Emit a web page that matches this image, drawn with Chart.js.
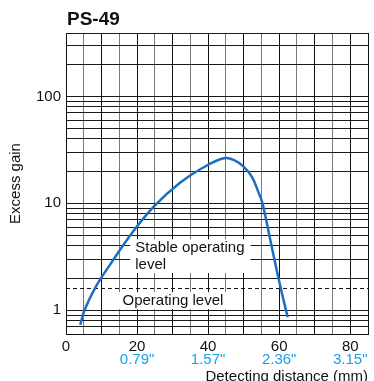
<!DOCTYPE html>
<html><head><meta charset="utf-8">
<script src="https://cdn.jsdelivr.net/npm/chart.js@4/dist/chart.umd.min.js"></script>
<style>html,body{margin:0;padding:0;background:#fff;overflow:hidden}canvas{display:block}</style>
</head><body>
<canvas id="c" width="374" height="381"></canvas>
<script>
const chartTitle = 'PS-49';
const distanceMm = [4.0, 5.2, 8.25, 12.5, 19.0, 25.1, 32.0, 38.5, 44.7, 47.7, 50.0, 52.4, 54.2, 55.3, 57.85, 60.4, 62.4];
const excessGain = [0.73, 1.0, 1.63, 2.7, 5.5, 9.6, 15.5, 21.5, 26.5, 24.9, 22.0, 17.5, 12.6, 10.0, 4.0, 1.63, 0.86];
const xTickValues = [0, 20, 40, 60, 80];
const xTickInches = ['', '0.79"', '1.57"', '2.36"', '3.15"'];
const xGridValues = [0, 5, 10, 15, 20, 25, 30, 35, 40, 45, 50, 55, 60, 65, 70, 75, 80, 85];
const yLabelValues = [1, 10, 100];
const yGridValues = [0.7, 0.8, 0.9, 1, 2, 3, 4, 5, 6, 7, 8, 9, 10, 20, 30, 40, 50, 60, 70, 80, 90, 100, 200, 300];
const operatingLevel = 1.62;
const stableLabel = ['Stable operating', 'level'];
const operatingLabel = 'Operating level';
const xTitle = 'Detecting distance (mm)';
const yTitle = 'Excess gain';

const FONT = "'Liberation Sans', Arial, Helvetica, sans-serif";
const Y_MIN = 0.639, Y_MAX = 391.5, X_MIN = 0, X_MAX = 85;

const annotPlugin = {
  id: 'annot',
  beforeDatasetsDraw(chart) {
    const {ctx, chartArea, scales} = chart;
    const xs = scales.x, ys = scales.y;
    ctx.save();
    const yl = Math.round(ys.getPixelForValue(operatingLevel)) + 0.5;
    ctx.strokeStyle = '#111';
    ctx.lineWidth = 1;
    ctx.setLineDash([4, 3]);
    ctx.beginPath();
    ctx.moveTo(chartArea.left, yl);
    ctx.lineTo(chartArea.right, yl);
    ctx.stroke();
    ctx.setLineDash([]);
    ctx.font = '15px ' + FONT;
    ctx.textBaseline = 'middle';
    ctx.textAlign = 'left';
    const sx = xs.getPixelForValue(19.5);
    const sy = ys.getPixelForValue(3.83);
    const lh = 16.7;
    let w = 0;
    stableLabel.forEach(t => { w = Math.max(w, ctx.measureText(t).width); });
    ctx.fillStyle = '#fff';
    ctx.fillRect(sx - 5, sy - 8.5, w + 11, lh * (stableLabel.length - 1) + 17);
    ctx.fillStyle = '#111';
    stableLabel.forEach((t, i) => ctx.fillText(t, sx, sy + i * lh));
    const ox = xs.getPixelForValue(15.9);
    const oy = ys.getPixelForValue(1.23);
    const ow = ctx.measureText(operatingLabel).width;
    ctx.fillStyle = '#fff';
    ctx.fillRect(ox - 5, oy - 8.5, ow + 14, 17);
    ctx.fillStyle = '#111';
    ctx.fillText(operatingLabel, ox, oy);
    ctx.restore();
  },
  afterDraw(chart) {
    const {ctx, chartArea} = chart;
    ctx.save();
    ctx.font = 'bold 19px ' + FONT;
    ctx.fillStyle = '#111';
    ctx.textBaseline = 'alphabetic';
    ctx.textAlign = 'left';
    ctx.fillText(chartTitle, chartArea.left + 1, 25);
    ctx.restore();
  }
};

new Chart(document.getElementById('c'), {
  type: 'line',
  data: {
    datasets: [{
      data: distanceMm.map((x, i) => ({x, y: excessGain[i]})),
      borderColor: '#1b6ec2',
      borderWidth: 2.5,
      pointRadius: 0,
      fill: false,
      tension: 0.4
    }]
  },
  options: {
    responsive: false,
    animation: false,
    layout: {padding: {top: 33, right: 6, left: 0, bottom: 0}},
    plugins: {legend: {display: false}, tooltip: {enabled: false}},
    scales: {
      x: {
        type: 'linear', position: 'bottom', min: X_MIN, max: X_MAX,
        afterBuildTicks: s => { s.ticks = xGridValues.map(v => ({value: v})); },
        afterFit: s => { s.height = 17; },
        grid: {
          drawTicks: false, lineWidth: 1,
          color: c => (c.tick && (c.tick.value % 10 === 0 || c.tick.value === X_MAX)) ? '#111' : '#7a7a7a'
        },
        border: {display: true, color: '#111'},
        ticks: {
          autoSkip: false, maxRotation: 0, padding: 4, color: '#111',
          font: {family: FONT, size: 15},
          callback: v => xTickValues.includes(v) ? String(v) : ''
        }
      },
      x2: {
        type: 'linear', position: 'bottom', min: X_MIN, max: X_MAX,
        afterBuildTicks: s => { s.ticks = xTickValues.map(v => ({value: v})); },
        afterFit: s => { s.height = 30; },
        grid: {display: false, drawTicks: false},
        border: {display: false},
        ticks: {
          autoSkip: false, maxRotation: 0, padding: 0, color: '#1a9fe6',
          font: {family: FONT, size: 15},
          callback: v => xTickInches[xTickValues.indexOf(v)]
        },
        title: {
          display: true, text: xTitle, align: 'end', color: '#111',
          font: {family: FONT, size: 15}, padding: {top: 0, bottom: -5}
        }
      },
      y: {
        type: 'logarithmic', min: Y_MIN, max: Y_MAX,
        afterBuildTicks: s => { s.ticks = yGridValues.concat([Y_MAX]).map(v => ({value: v})); },
        afterFit: s => { s.width = 66; },
        grid: {drawTicks: false, lineWidth: 1, color: '#1a1a1a'},
        border: {display: true, color: '#111'},
        ticks: {
          autoSkip: false, padding: 5, color: '#111',
          font: {family: FONT, size: 15},
          callback: v => yLabelValues.includes(v) ? String(v) : ''
        },
        title: {
          display: true, text: yTitle, color: '#111',
          font: {family: FONT, size: 15}, padding: {top: 7, bottom: 0}
        }
      }
    }
  },
  plugins: [annotPlugin]
});
</script>
</body></html>
